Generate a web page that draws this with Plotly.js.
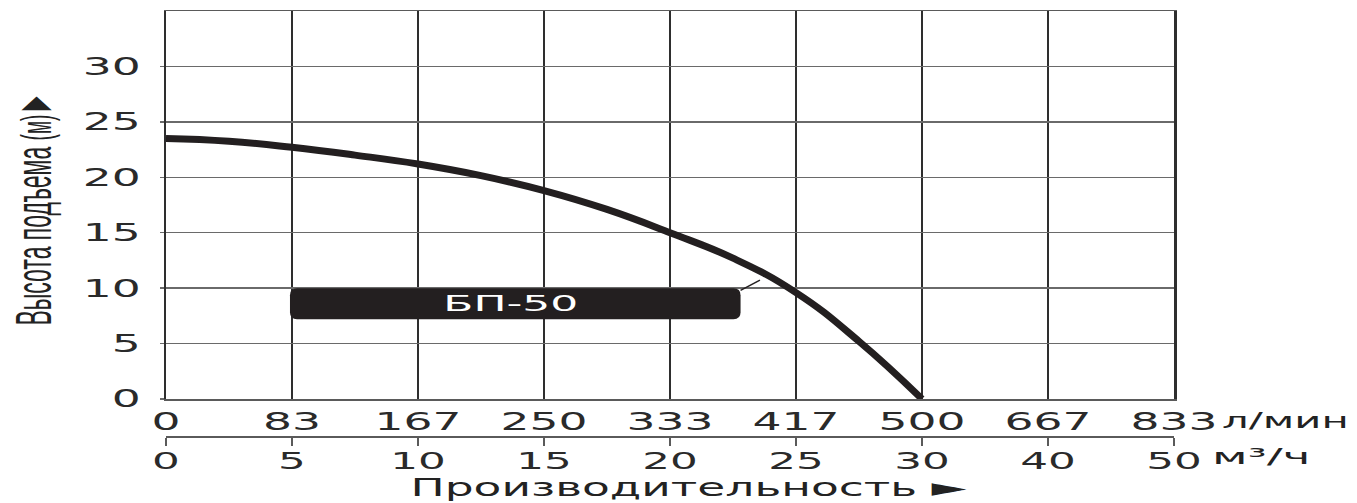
<!DOCTYPE html>
<html><head><meta charset="utf-8">
<script src="https://cdn.plot.ly/plotly-3.0.1.min.js"></script>
<style>
html,body{margin:0;padding:0;background:#fff;}
#chart{width:1357px;height:503px;}
g.xtick { transform-box: fill-box; transform-origin: center; transform: scaleX(1.9); }
g.x2tick { transform-box: fill-box; transform-origin: center; transform: translateY(-4px) scaleX(1.9); }
g.ytick { transform-box: fill-box; transform-origin: right center; transform: scaleX(1.9); }
text.annotation-text { transform-box: fill-box; transform-origin: center; }
.annotation[data-index="0"] text.annotation-text { transform: scaleY(2.2); }
.annotation[data-index="1"] text.annotation-text { transform: scaleX(1.82); }
.annotation[data-index="2"] text.annotation-text { transform-origin: left center; transform: scaleX(1.9); }
.annotation[data-index="3"] text.annotation-text { transform-origin: left center; transform: translateY(-2px) scaleX(2.15); }
.annotation[data-index="4"] text.annotation-text { transform: scaleX(2.0); }
</style>
</head><body>
<div id="chart"></div>
<script>
// Flow (m³/h) and head (m)
const flowM3h = [0, 2.5, 5, 7.5, 10, 12.5, 15, 17.5, 20, 22.5, 25, 27.5, 30];
const headM   = [23.5, 23.25, 22.7, 22.0, 21.2, 20.15, 18.8, 17.1, 15.0, 12.7, 9.6, 5.2, 0];
// Axis ticks (the chart compresses 40 and 50 m³/h onto equal steps)
const flowTicks = [0, 5, 10, 15, 20, 25, 30, 35, 40];
const lpmLabels = ['0', '83', '167', '250', '333', '417', '500', '667', '833'];
const m3hLabels = ['0', '5', '10', '15', '20', '25', '30', '40', '50'];
const headTicks = [0, 5, 10, 15, 20, 25, 30];
const seriesName = 'БП-50';

const W = 1357, H = 503;
const mL = 166, mR = 183, mT = 11, mB = 67;
const plotH = H - mT - mB;           // 425
const yDomLow = 37 / plotH;          // main plot bottom sits above the second flow axis

const ink = '#231f20';
const boxX0 = 4.92, boxX1 = 22.8, boxY0 = 7.2, boxY1 = 10.0, rx = 0.28, ry = 0.63;
const boxPath = `M ${boxX0 + rx},${boxY0} L ${boxX1 - rx},${boxY0} Q ${boxX1},${boxY0} ${boxX1},${boxY0 + ry} ` +
  `L ${boxX1},${boxY1 - ry} Q ${boxX1},${boxY1} ${boxX1 - rx},${boxY1} L ${boxX0 + rx},${boxY1} ` +
  `Q ${boxX0},${boxY1} ${boxX0},${boxY1 - ry} L ${boxX0},${boxY0 + ry} Q ${boxX0},${boxY0} ${boxX0 + rx},${boxY0} Z`;

const font = 'DejaVu Sans, Verdana, sans-serif';

const trace = {
  x: flowM3h, y: headM, name: seriesName,
  type: 'scatter', mode: 'lines',
  line: { color: ink, width: 7, shape: 'spline', smoothing: 1.3 },
  hoverinfo: 'skip', showlegend: false, xaxis: 'x', yaxis: 'y'
};
const dummy = { x: [0], y: [0], xaxis: 'x2', yaxis: 'y', mode: 'markers',
  marker: { opacity: 0 }, showlegend: false, hoverinfo: 'skip' };

const layout = {
  width: W, height: H,
  margin: { l: mL, r: mR, t: mT, b: mB, pad: 0 },
  paper_bgcolor: '#fff', plot_bgcolor: '#fff',
  showlegend: false,
  xaxis: {
    range: [0, 40], anchor: 'y', side: 'bottom',
    tickmode: 'array', tickvals: flowTicks, ticktext: lpmLabels,
    showgrid: true, gridcolor: '#2e2e2e', gridwidth: 2.5,
    showline: true, linecolor: '#5a5a5a', linewidth: 1.5, mirror: true,
    ticks: '', ticklabelstandoff: 1, zeroline: false,
    tickfont: { family: font, size: 24, color: '#2a2a2a' }, fixedrange: true
  },
  xaxis2: {
    range: [0, 40], overlaying: 'x', anchor: 'free', position: 0, side: 'bottom',
    tickmode: 'array', tickvals: flowTicks, ticktext: m3hLabels,
    showgrid: false, zeroline: false,
    showline: true, linecolor: '#5a5a5a', linewidth: 1.5,
    ticks: 'outside', ticklen: 8, tickwidth: 1.5, tickcolor: '#5a5a5a', ticklabelstandoff: 0,
    tickfont: { family: font, size: 23, color: '#2a2a2a' }, fixedrange: true
  },
  yaxis: {
    range: [0, 35], domain: [yDomLow, 1],
    tickmode: 'array', tickvals: headTicks,
    showgrid: true, gridcolor: '#6a6a6a', gridwidth: 1.5,
    showline: true, linecolor: '#2e2e2e', linewidth: 2.5, mirror: true,
    ticks: 'outside', ticklen: 4, tickwidth: 1.5, tickcolor: '#6a6a6a', ticklabelstandoff: 14,
    zeroline: false,
    tickfont: { family: font, size: 24, color: '#2a2a2a' }, fixedrange: true
  },
  shapes: [
    { type: 'path', xref: 'x', yref: 'y', path: boxPath, fillcolor: ink, line: { width: 0 } },
    { type: 'line', xref: 'x', yref: 'y', x0: 22.8, y0: 9.8, x1: 23.57, y1: 10.73,
      line: { color: ink, width: 1.5 } }
  ],
  annotations: [
    { xref: 'paper', yref: 'paper', x: -0.132, y: 0.535, xanchor: 'center', yanchor: 'middle',
      textangle: -90, showarrow: false,
      text: 'Высота подъема <span style="font-size:19px">(м)</span>►',
      font: { family: 'Liberation Sans, Arial, sans-serif', size: 23, color: '#222' } },
    { xref: 'paper', yref: 'paper', x: 0.519, y: -0.122, xanchor: 'center', yanchor: 'middle',
      showarrow: false, text: 'Производительность ►',
      font: { family: font, size: 25, color: '#222' } },
    { xref: 'paper', yref: 'paper', x: 1.0456, y: 0.0353, xanchor: 'left', yanchor: 'middle',
      showarrow: false, text: 'л/мин', font: { family: font, size: 22, color: '#222' } },
    { xref: 'paper', yref: 'paper', x: 1.036, y: -0.054, xanchor: 'left', yanchor: 'middle',
      showarrow: false, text: 'м³/ч', font: { family: font, size: 22, color: '#222' } },
    { xref: 'x', yref: 'y', x: 13.7, y: 8.6, xanchor: 'center', yanchor: 'middle',
      showarrow: false, text: seriesName, font: { family: font, size: 22, color: '#ffffff' } }
  ]
};

Plotly.newPlot('chart', [trace, dummy], layout, { staticPlot: true, displayModeBar: false });
</script>
</body></html>
